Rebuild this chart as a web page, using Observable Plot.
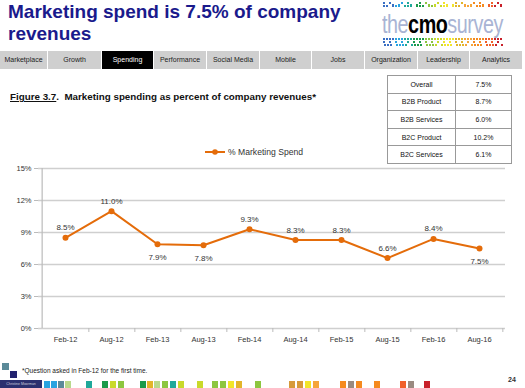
<!DOCTYPE html>
<html><head><meta charset="utf-8">
<script src="https://cdn.jsdelivr.net/npm/d3@7"></script>
<script src="https://cdn.jsdelivr.net/npm/@observablehq/plot@0.6"></script>
<style>
body{margin:0;background:#fff;font-family:"Liberation Sans",Arial,sans-serif;}
#page{position:relative;width:525px;height:388px;overflow:hidden;background:#fff;}
#title{position:absolute;left:8px;top:1px;font-weight:bold;font-size:19px;line-height:22px;color:#1a1a8c;}
#logo{position:absolute;left:382px;top:10px;font-size:26px;letter-spacing:-0.6px;color:#a9b4d4;line-height:28px;transform:scaleX(0.76);transform-origin:left top;white-space:nowrap;}
#logo b{color:#000;}
#nav{position:absolute;left:0;top:51px;width:523px;height:18px;display:flex;}
#nav div{flex:0 0 auto;background:#cfcfcf;border-right:1px solid #fff;box-sizing:border-box;font-size:7px;color:#222;text-align:center;line-height:18px;}
#nav div.on{background:#000;color:#fff;}
#fig{position:absolute;left:10px;top:91px;font-size:9.8px;font-weight:bold;color:#111;}
#tbl{position:absolute;left:387px;top:75px;border-collapse:collapse;font-size:7px;color:#111;}
#tbl td{border:1px solid #999;height:16.6px;padding:0;text-align:center;}
#legend{position:absolute;left:204px;top:147px;font-size:8.6px;color:#333;display:flex;align-items:center;gap:2px;}
#chart{position:absolute;left:0;top:140px;}
#note{position:absolute;left:22px;top:367px;font-size:6.5px;color:#222;}
#pnum{position:absolute;left:508px;top:376px;font-size:7px;font-weight:bold;color:#333;}
#author{position:absolute;left:0;top:380px;width:42px;height:8px;background:#2b2f6e;color:#ccd;font-size:3.5px;line-height:8px;text-align:center;overflow:hidden;white-space:nowrap;}
.sq{position:absolute;}
</style></head>
<body><div id="page">
<div id="title">Marketing spend is 7.5% of company<br>revenues</div>
<div id="logo">the<b>cmo</b>survey</div>
<div id="nav"></div>
<div id="fig"><u>Figure 3.7</u>.&nbsp; Marketing spending as percent of company revenues*</div>
<table id="tbl"></table>
<div id="legend"><svg width="22" height="8"><line x1="1" x2="21" y1="4" y2="4" stroke="#e46c0a" stroke-width="2"/><circle cx="11" cy="4" r="2.8" fill="#e46c0a"/></svg><span>% Marketing Spend</span></div>
<div id="chart"></div>
<div id="note">*Question asked in Feb-12 for the first time.</div>
<div id="author">Christine Moorman</div>
<div id="pnum">24</div>
</div>
<script>
const periods = ["Feb-12","Aug-12","Feb-13","Aug-13","Feb-14","Aug-14","Feb-15","Aug-15","Feb-16","Aug-16"];
const spend = [8.5, 11.0, 7.9, 7.8, 9.3, 8.3, 8.3, 6.6, 8.4, 7.5];
const yTicks = [0, 3, 6, 9, 12, 15];
const segments = ["Overall","B2B Product","B2B Services","B2C Product","B2C Services"];
const segmentSpend = ["7.5%","8.7%","6.0%","10.2%","6.1%"];
const navItems = ["Marketplace","Growth","Spending","Performance","Social Media","Mobile","Jobs","Organization","Leadership","Analytics"];
const activeNav = "Spending";

// nav
const navW = [48,54,52,53,53,52,53,53,52,53];
const nav = document.getElementById("nav");
navItems.forEach((n,i)=>{const d=document.createElement("div");d.textContent=n;d.style.width=navW[i]+"px";if(n===activeNav)d.className="on";nav.appendChild(d);});
// table
const tbl = document.getElementById("tbl");
segments.forEach((s,i)=>{const tr=document.createElement("tr");tr.innerHTML=`<td style="width:67px">${s}</td><td style="width:55px">${segmentSpend[i]}</td>`;tbl.appendChild(tr);});

const below = new Set(["Feb-13","Aug-13","Aug-16"]);
const data = periods.map((p,i)=>({period:p, value:spend[i]}));
const orange = "#e46c0a";
const step = 46.7;
const chart = Plot.plot({
  width: 525, height: 215,
  marginLeft: 38, marginRight: 20, marginTop: 28, marginBottom: 27,
  style: {fontFamily: "Liberation Sans, Arial, sans-serif", fontSize: "7.5px", color: "#333"},
  x: {type: "point", domain: periods, padding: 0.5, label: null},
  y: {domain: [0, 15], label: null},
  marks: [
    Plot.gridY(yTicks, {stroke: "#cfcfcf", strokeOpacity: 1, strokeWidth: 1.3}),
    Plot.axisY(yTicks, {tickFormat: d => d + "%", tickSize: 4, stroke: "#bbb", tickPadding: 3, label: null}),
    Plot.axisX({tickSize: 0, tickPadding: 8, label: null, fontSize: "7.5px"}),
    Plot.axisX({tickSize: 4, tickFormat: () => "", dx: step/2, stroke: "#bbb", label: null}),
    Plot.ruleX([periods[0]], {dx: -step/2, stroke: "#bbb", strokeWidth: 1.2}),
    Plot.line(data, {x: "period", y: "value", stroke: orange, strokeWidth: 2}),
    Plot.dot(data, {x: "period", y: "value", fill: orange, r: 3}),
    Plot.text(data.filter(d => !below.has(d.period)), {x: "period", y: "value", text: d => d.value.toFixed(1) + "%", dy: -10, fill: "#333", fontSize: 8}),
    Plot.text(data.filter(d => below.has(d.period)), {x: "period", y: "value", text: d => d.value.toFixed(1) + "%", dy: 13, fill: "#333", fontSize: 8})
  ]
});
document.getElementById("chart").appendChild(chart);

// decorative squares
const page = document.getElementById("page");
function sq(x,y,c,w=6,h=7){const d=document.createElement("div");d.className="sq";d.style.left=x+"px";d.style.top=y+"px";d.style.width=w+"px";d.style.height=h+"px";d.style.background=c;page.appendChild(d);}
sq(2,363,"#5b8a99",7,7); sq(10,371,"#22226e",7,7);
const foot=[[44,"#29a3e0"],[51,"#29a3e0"],[58,"#5b8a99"],[65,"#b9d98c"],[86,"#1fa89a"],[102,"#1a9a4a"],[110,"#c9d92a"],[118,"#8dc63f"],[140,"#1a9a4a"],[147,"#e2b52a"],[154,"#b9d98c"],[162,"#8dc63f"],[170,"#1fa89a"],[178,"#c9d92a"],[197,"#c9d92a"],[212,"#8dc63f"],[220,"#8dc63f"],[228,"#f2e52a"],[236,"#e2b52a"],[255,"#8dc63f"],[289,"#d79a3a"],[297,"#d79a3a"],[305,"#f2e52a"],[313,"#f5a53a"],[340,"#f58a1f"],[348,"#9a8a80"],[356,"#f58a1f"],[374,"#f58a1f"],[400,"#f0602a"],[408,"#9a8a80"],[424,"#c8202a"]];
foot.forEach(([x,c])=>sq(x,381,c,6,7));
// logo pixel bands
const rainbow = ["#3a6fc4","#29a3e0","#1fa89a","#1a9a4a","#8dc63f","#c9d92a","#f2e52a","#e2b52a","#f5a53a","#f58a1f","#f0602a","#c8202a"];
for (let i = 0; i < 40; i++) {
  const c = rainbow[Math.floor(i / 40 * rainbow.length)];
  if (i % 3 !== 1) sq(383 + i * 3, 2 + (i % 2) * 2, c, 2, 2);
  if (i % 4 !== 2) sq(383 + i * 3, 5, c, 2, 2);
  sq(383 + i * 3, 38, c, 2, 2);
  if (i % 2 === 0) sq(383 + i * 3, 41, c, 2, 2);
  if (i % 5 !== 3) sq(384 + i * 3, 44, c, 2, 2);
}
</script>
</body></html>
